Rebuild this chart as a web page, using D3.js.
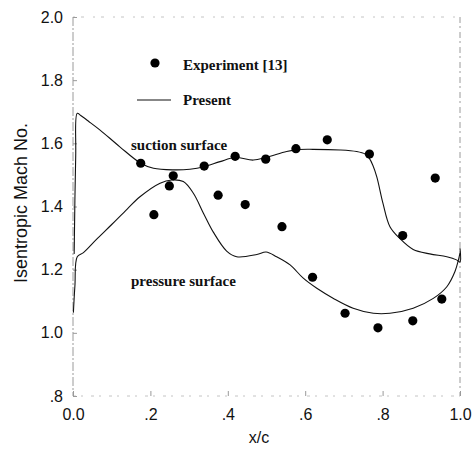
<!DOCTYPE html>
<html>
<head>
<meta charset="utf-8">
<script src="https://cdn.jsdelivr.net/npm/d3@7"></script>
<style>
  html, body { margin: 0; padding: 0; background: #fff; }
  svg { display: block; }
</style>
</head>
<body>
<svg id="chart" width="472" height="456"></svg>
<script>
// Measured isentropic Mach number (x/c, M)
const expX = [0.175, 0.209, 0.249, 0.259, 0.339, 0.375, 0.419, 0.445, 0.498, 0.540,
              0.576, 0.619, 0.657, 0.703, 0.766, 0.788, 0.852, 0.878, 0.936, 0.953];
const expM = [1.537, 1.374, 1.465, 1.497, 1.528, 1.436, 1.559, 1.406, 1.550, 1.336,
              1.583, 1.176, 1.611, 1.062, 1.566, 1.016, 1.308, 1.038, 1.490, 1.107];

// Computed distribution, suction side
const suctionX = [0.003, 0.007, 0.011, 0.020, 0.040, 0.070, 0.121, 0.175, 0.208, 0.259,
                  0.302, 0.339, 0.380, 0.419, 0.466, 0.500, 0.552, 0.579, 0.620, 0.690,
                  0.733, 0.755, 0.765, 0.775, 0.785, 0.801, 0.819, 0.845, 0.879, 0.922,
                  0.966, 0.991, 1.000, 1.000];
const suctionM = [1.250, 1.560, 1.695, 1.688, 1.670, 1.642, 1.589, 1.537, 1.521, 1.516,
                  1.518, 1.526, 1.542, 1.555, 1.547, 1.556, 1.574, 1.580, 1.581, 1.579,
                  1.574, 1.566, 1.554, 1.530, 1.494, 1.410, 1.336, 1.298, 1.264, 1.250,
                  1.241, 1.231, 1.224, 1.268];

// Computed distribution, pressure side
const pressureX = [0.001, 0.005, 0.011, 0.027, 0.060, 0.100, 0.140, 0.173, 0.225, 0.255,
                   0.285, 0.311, 0.337, 0.363, 0.397, 0.423, 0.475, 0.499, 0.526, 0.561,
                   0.595, 0.630, 0.673, 0.724, 0.776, 0.819, 0.879, 0.931, 0.966, 0.987,
                   0.996, 1.000];
const pressureM = [1.064, 1.150, 1.241, 1.254, 1.295, 1.343, 1.392, 1.431, 1.474, 1.484,
                   1.479, 1.442, 1.379, 1.318, 1.259, 1.241, 1.248, 1.256, 1.241, 1.215,
                   1.173, 1.141, 1.109, 1.078, 1.062, 1.062, 1.078, 1.109, 1.146, 1.194,
                   1.231, 1.253];

const xTicks = [0, 0.2, 0.4, 0.6, 0.8, 1.0];
const xTickLabels = ["0.0", ".2", ".4", ".6", ".8", "1.0"];
const yTicks = [0.8, 1.0, 1.2, 1.4, 1.6, 1.8, 2.0];
const yTickLabels = [".8", "1.0", "1.2", "1.4", "1.6", "1.8", "2.0"];

const svg = d3.select("#chart");
const plotLeft = 73, plotRight = 460, plotTop = 17, plotBottom = 396;

const x = d3.scaleLinear().domain([0, 1]).range([plotLeft, plotRight]);
const y = d3.scaleLinear().domain([0.8, 2.0]).range([plotBottom, plotTop]);

const frameColor = "#9a9a9a";

// Plot frame, drawn faint and broken
svg.append("line").attr("x1", plotLeft).attr("x2", plotLeft).attr("y1", plotTop).attr("y2", plotBottom)
  .attr("stroke", frameColor).attr("stroke-width", 1).attr("stroke-dasharray", "9,2,2,2");
svg.append("line").attr("x1", plotRight).attr("x2", plotRight).attr("y1", plotTop).attr("y2", plotBottom)
  .attr("stroke", frameColor).attr("stroke-width", 1).attr("stroke-dasharray", "6,3,2,4");
svg.append("line").attr("x1", plotLeft).attr("x2", plotRight).attr("y1", plotTop).attr("y2", plotTop)
  .attr("stroke", "#c4c4c4").attr("stroke-width", 1).attr("stroke-dasharray", "2,6,3,9");
svg.append("line").attr("x1", plotLeft).attr("x2", plotRight).attr("y1", plotBottom).attr("y2", plotBottom)
  .attr("stroke", "#c4c4c4").attr("stroke-width", 1).attr("stroke-dasharray", "3,5,2,8");

// Axes: labels plus short inward ticks
const xAxis = d3.axisBottom(x).tickValues(xTicks)
  .tickFormat((d, i) => xTickLabels[i]).tickSizeInner(-5).tickSizeOuter(0).tickPadding(13);
const gx = svg.append("g").attr("transform", `translate(0,${plotBottom})`).call(xAxis);
gx.select(".domain").remove();
gx.selectAll(".tick line").attr("stroke", frameColor);
gx.selectAll(".tick text").attr("font-family", "Arial, 'Liberation Sans', sans-serif")
  .attr("font-size", 16).attr("fill", "#111");

const yAxis = d3.axisLeft(y).tickValues(yTicks)
  .tickFormat((d, i) => yTickLabels[i]).tickSizeInner(-4).tickSizeOuter(0).tickPadding(10);
const gy = svg.append("g").attr("transform", `translate(${plotLeft},0)`).call(yAxis);
gy.select(".domain").remove();
gy.selectAll(".tick line").attr("stroke", frameColor);
gy.selectAll(".tick text").attr("font-family", "Arial, 'Liberation Sans', sans-serif")
  .attr("font-size", 16).attr("fill", "#111");

// Axis titles
svg.append("text")
  .attr("transform", "translate(27,203) rotate(-90)")
  .attr("text-anchor", "middle")
  .attr("font-family", "Arial, 'Liberation Sans', sans-serif")
  .attr("font-size", 18).attr("fill", "#111")
  .text("Isentropic Mach No.");
svg.append("text")
  .attr("x", 259).attr("y", 443)
  .attr("text-anchor", "middle")
  .attr("font-family", "Arial, 'Liberation Sans', sans-serif")
  .attr("font-size", 16).attr("fill", "#111")
  .text("x/c");

// Computed curves
const line = d3.line().x(d => x(d[0])).y(d => y(d[1])).curve(d3.curveCatmullRom.alpha(0.5));
svg.append("path").datum(d3.zip(suctionX, suctionM)).attr("d", line)
  .attr("fill", "none").attr("stroke", "#111").attr("stroke-width", 1.1)
  .attr("stroke-linejoin", "round");
svg.append("path").datum(d3.zip(pressureX, pressureM)).attr("d", line)
  .attr("fill", "none").attr("stroke", "#111").attr("stroke-width", 1.1)
  .attr("stroke-linejoin", "round");

// Experimental points
svg.append("g").selectAll("circle").data(d3.zip(expX, expM)).join("circle")
  .attr("cx", d => x(d[0])).attr("cy", d => y(d[1])).attr("r", 4.6)
  .attr("fill", "#000");

// Legend and surface labels
const serif = "'Times New Roman', 'Liberation Serif', serif";
svg.append("circle").attr("cx", 155).attr("cy", 63).attr("r", 4.6).attr("fill", "#000");
svg.append("text").attr("x", 183).attr("y", 70)
  .attr("font-family", serif).attr("font-weight", "bold").attr("font-size", 15).attr("fill", "#111")
  .text("Experiment [13]");
svg.append("line").attr("x1", 137).attr("x2", 171).attr("y1", 100).attr("y2", 100)
  .attr("stroke", "#111").attr("stroke-width", 1.2);
svg.append("text").attr("x", 183).attr("y", 105)
  .attr("font-family", serif).attr("font-weight", "bold").attr("font-size", 15).attr("fill", "#111")
  .text("Present");

svg.append("text").attr("x", 131).attr("y", 150)
  .attr("font-family", serif).attr("font-weight", "bold").attr("font-size", 15).attr("fill", "#111")
  .text("suction surface");
svg.append("text").attr("x", 131).attr("y", 286)
  .attr("font-family", serif).attr("font-weight", "bold").attr("font-size", 15).attr("fill", "#111")
  .text("pressure surface");
</script>
</body>
</html>
